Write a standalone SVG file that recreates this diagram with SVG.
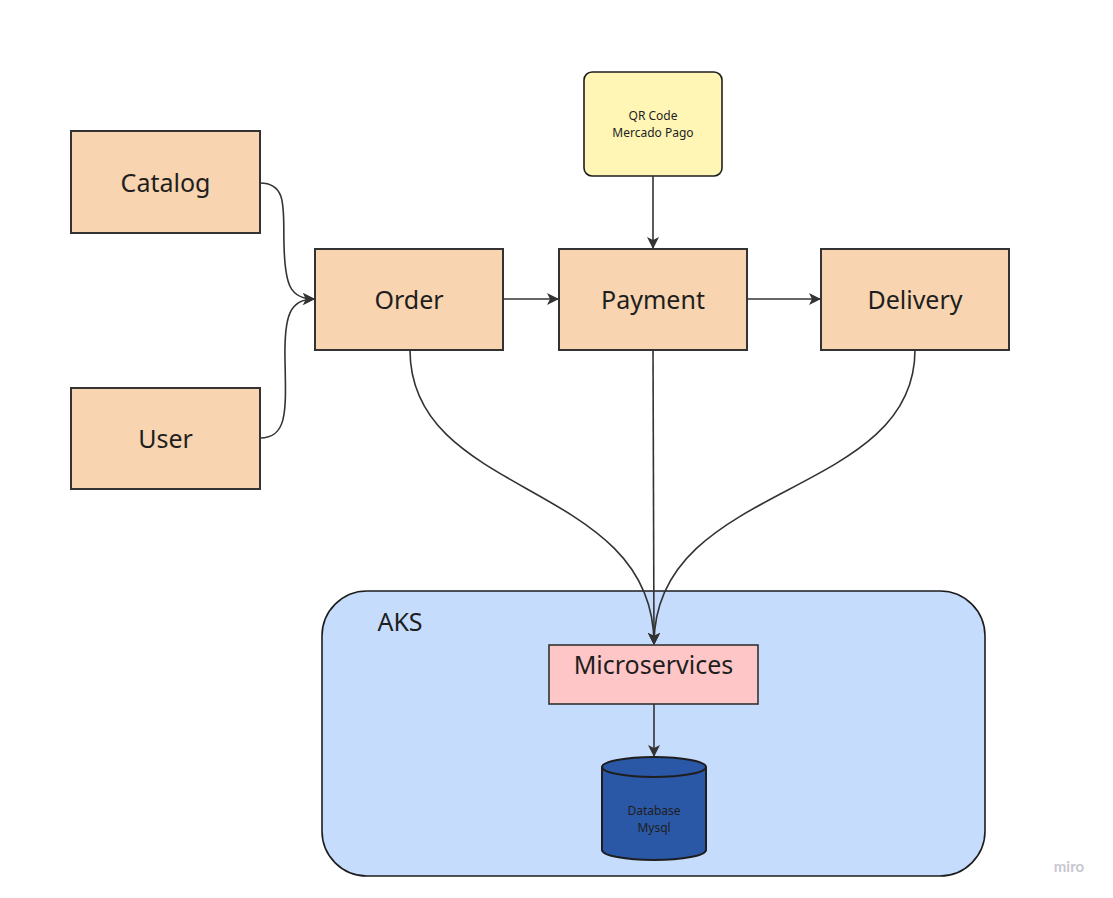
<svg xmlns="http://www.w3.org/2000/svg" width="1113" height="898" viewBox="0 0 1113 898">
<style>
.box{fill:#f8d4b0;stroke:#333;stroke-width:2}
.lbl{font-family:"Noto Sans","Open Sans",sans-serif;font-size:25px;fill:#1e1e1e;text-anchor:middle}
.sm{font-family:"Noto Sans","Open Sans",sans-serif;font-size:12px;fill:#1e1e1e;text-anchor:middle}
.edge{fill:none;stroke:#333;stroke-width:1.6}
</style>
<defs>
<marker id="ah" viewBox="0 0 12 12" refX="11" refY="6" markerWidth="12" markerHeight="12" markerUnits="userSpaceOnUse" orient="auto">
<path d="M0,0 L12,6 L0,12 L3,6 Z" fill="#333"/>
</marker>
</defs>
<rect width="1113" height="898" fill="#ffffff"/>
<g id="aks">
<rect x="322" y="591" width="663" height="285" rx="45" fill="#c6dcfd" stroke="#1e1e1e" stroke-width="1.6"/>
<text x="400" y="631" class="lbl" font-size="23">AKS</text>
</g>
<g id="catalog"><rect class="box" x="71" y="131" width="189" height="102"/><text x="165.5" y="192" class="lbl">Catalog</text></g>
<g id="user"><rect class="box" x="71" y="388" width="189" height="101"/><text x="165.5" y="448" class="lbl">User</text></g>
<g id="order"><rect class="box" x="315" y="249" width="188" height="101"/><text x="409" y="309" class="lbl">Order</text></g>
<g id="payment"><rect class="box" x="559" y="249" width="188" height="101"/><text x="653" y="309" class="lbl">Payment</text></g>
<g id="delivery"><rect class="box" x="821" y="249" width="188" height="101"/><text x="915" y="309" class="lbl">Delivery</text></g>
<g id="qrcode"><rect x="584" y="72" width="138" height="104" rx="8" fill="#fff6b6" stroke="#1e1e1e" stroke-width="1.6"/>
<text x="653" y="120" class="sm">QR Code</text><text x="653" y="137" class="sm">Mercado Pago</text></g>
<g id="microservices"><rect x="549" y="645" width="209" height="59" fill="#fec6c6" stroke="#333" stroke-width="1.6"/><text x="653.5" y="674" class="lbl">Microservices</text></g>
<g id="database">
<path d="M602,767 L602,850 A52,10 0 0 0 706,850 L706,767" fill="#2b58a6" stroke="#1e1e1e" stroke-width="2"/>
<ellipse cx="654" cy="767" rx="52" ry="10" fill="#2b58a6" stroke="#1e1e1e" stroke-width="2"/>
<text x="654" y="815" class="sm" font-size="11" fill="#1e2a44">Database</text>
<text x="654" y="832" class="sm" font-size="11" fill="#1e2a44">Mysql</text>
</g>
<g id="connectors">
<path class="edge" d="M260,183 C288,183 283,210 284,245 C285,285 290,299 314,299" marker-end="url(#ah)"/>
<path class="edge" d="M260,438 C288,438 286,410 285,360 C284,315 290,299 314,299" marker-end="url(#ah)"/>
<path class="edge" d="M503,299 L558,299" marker-end="url(#ah)"/>
<path class="edge" d="M653,176 L653,248" marker-end="url(#ah)"/>
<path class="edge" d="M747,299 L820,299" marker-end="url(#ah)"/>
<path class="edge" d="M410,350 C410,500 654,480 654,644" marker-end="url(#ah)"/>
<path class="edge" d="M653,350 L654,644" marker-end="url(#ah)"/>
<path class="edge" d="M915,350 C915,500 654,480 654,644" marker-end="url(#ah)"/>
<path class="edge" d="M654,704 L654,756" marker-end="url(#ah)"/>
</g>
<text x="1069" y="872" font-family="Lato,'Open Sans',sans-serif" font-size="15" font-weight="bold" fill="#c8c8d0" text-anchor="middle">miro</text>
</svg>
